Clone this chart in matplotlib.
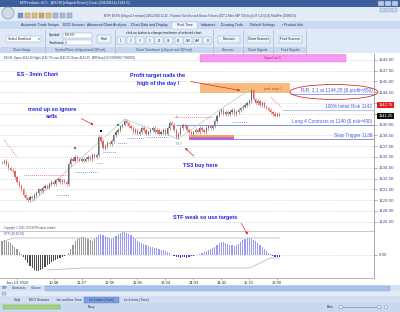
import matplotlib
matplotlib.use("Agg")
import matplotlib.pyplot as plt
from matplotlib.patches import Rectangle, Ellipse, Circle

plt.rcParams["font.family"] = ["Liberation Sans", "DejaVu Sans"]

# ---- values ----
closes = [
    1134.75, 1135.0, 1134.5, 1134.0, 1133.75, 1133.5, 1132.75, 1132.0, 1131.5, 1131.0,
    1130.25, 1129.75, 1129.5, 1130.0, 1129.75, 1130.25, 1130.5, 1131.0, 1130.75, 1131.25,
    1131.5, 1131.25, 1131.75, 1132.0, 1131.75, 1132.25, 1132.5, 1132.0, 1132.25, 1132.0,
    1131.75, 1134.5, 1135.25, 1135.0, 1135.5, 1135.25, 1135.0, 1135.25, 1135.0, 1135.25,
    1135.5, 1135.25, 1135.75, 1135.5, 1135.75, 1138.25, 1137.75, 1136.75, 1137.0, 1137.5,
    1137.25, 1137.75, 1138.5, 1139.0, 1139.25, 1139.75, 1140.0, 1140.5, 1140.25, 1139.75,
    1139.5, 1139.0, 1139.25, 1138.75, 1139.0, 1139.5, 1139.25, 1138.75, 1139.0, 1139.25,
    1139.5, 1139.0, 1139.25, 1138.75, 1139.0, 1139.25, 1138.75, 1139.5, 1140.25, 1140.0,
    1139.25, 1138.25, 1138.75, 1139.5, 1140.0, 1139.75, 1139.25, 1139.0, 1138.75, 1139.0,
    1139.25, 1139.0, 1139.5, 1139.25, 1139.0, 1139.5, 1139.75, 1139.5, 1139.75, 1140.5,
    1141.25, 1141.75, 1142.0, 1141.5, 1141.75, 1141.5, 1141.75, 1142.0, 1141.5, 1141.75,
    1142.0, 1142.25, 1142.5, 1142.75, 1143.0, 1143.25, 1144.75, 1143.5, 1143.0, 1143.25,
    1142.75, 1143.0, 1142.5, 1142.25, 1142.0, 1141.75, 1141.5, 1141.25, 1141.5, 1141.25,
]

stf = [
    14, 15, 14, 13, 12, 10, 8, 6, 3, 1,
    -2, -5, -8, -11, -13, -15, -16, -16, -15, -14,
    -12, -10, -9, -7, -6, -5, -4, -3, -2, -1,
    0.5, 2, 6, 10, 14, 16, 17, 18, 18, 17,
    16, 15, 14, 16, 18, 20, 21, 20, 19, 18,
    17, 16, 17, 19, 21, 22, 23, 23, 22, 21,
    20, 18, 16, 14, 13, 12, 11, 10, 9, 8,
    8, 7, 7, 6, 5, 5, 4, 3, 2, 0.5,
    -1, -2, -2, -3, -2, -2, -3, -2, -1, -1,
    0.5, 0.5, 1, 2, 3, 4, 5, 6, 7, 8,
    10, 12, 13, 13, 12, 11, 10, 10, 9, 10,
    11, 13, 15, 16, 17, 17, 16, 15, 14, 12,
    10, 8, 6, 4, 2, 1, -1, -2, -2, -2,
]
stf_upper_x = [0, 5, 129]
stf_upper = [13, 17, 17]
stf_lower_x = [21, 38, 115, 122, 125, 129]
stf_lower = [-15, -13, -13, -6, -3, -3]

price_ticks = [1126.5, 1128.0, 1129.5, 1131.0, 1132.5, 1134.0, 1135.5, 1137.0,
               1138.5, 1140.0, 1141.5, 1143.0, 1144.5, 1146.0, 1147.5, 1149.0]
# the two ticks hidden behind the price flags carry no label
price_labels = ["1126.50", "1128.00", "1129.50", "1131.00", "1132.50", "1134.00",
                "1135.50", "1137.00", "1138.50", "1140.00", "", "",
                "1144.50", "1146.00", "1147.50", "1149.00"]
time_ticks = [7, 24, 37, 50, 63, 76, 89, 102, 115, 128]
time_labels = ["Jan 13 2010", "10:48", "11:27", "12:06", "12:45", "13:24",
               "14:03", "14:42", "15:21", "16:00"]

target = 1144.25
initial_risk = 1142.0
entry = 1140.0
stop = 1138.0
last_price = 1141.25
flag_price = 1142.75

# stop dots: (first bar, last bar, price start, price end, side)
stop_dots = [
    (1, 7, 1137.9, 1135.5, "sell"),
    (10, 30, 1133.0, 1133.0, "sell"),
    (25, 31, 1130.2, 1130.2, "buy"),
    (34, 44, 1133.4, 1133.4, "buy"),
    (44, 47, 1134.7, 1134.7, "buy"),
    (47, 53, 1136.2, 1136.2, "buy"),
    (54, 58, 1137.45, 1137.45, "buy"),
    (58, 66, 1138.1, 1138.1, "buy"),
    (67, 77, 1138.3, 1138.3, "buy"),
    (80, 98, 1141.05, 1141.05, "sell"),
    (107, 114, 1140.35, 1140.35, "buy"),
    (125, 130, 1143.8, 1142.4, "sell"),
]
trend_lines = [
    (14, 1129.25, 57, 1140.75),
    (57, 1140.75, 82, 1138.0),
    (82, 1138.0, 101, 1142.0),
    (101, 1142.0, 116, 1145.0),
]
swing_bars = [34, 46, 54]
swing_prices = [1136.75, 1139.1, 1139.9]
swing_colors = ["#2e8b57", "#111111", "#2e8b57"]

W, H = 400, 312
fig = plt.figure(figsize=(4, 3.12), dpi=100, facecolor="#dae6f7")


def frac(x0, y0, x1, y1):
    return [x0 / W, 1 - y1 / H, (x1 - x0) / W, (y1 - y0) / H]


def box(ax, x, y, w, h, fc, ec="none", lw=0.4, z=1):
    ax.add_patch(Rectangle((x, y), w, h, facecolor=fc, edgecolor=ec, linewidth=lw, zorder=z))


bg = fig.add_axes([0, 0, 1, 1], zorder=-5)
bg.set_xlim(0, W)
bg.set_ylim(H, 0)
bg.axis("off")
fg = fig.add_axes([0, 0, 1, 1], zorder=10)
fg.set_xlim(0, W)
fg.set_ylim(H, 0)
fg.set_facecolor("none")
fg.axis("off")

# ---- window chrome ----
box(bg, 0, 0, 400, 6.5, "#3d5f9e")
bg.text(20, 3.3, "MTPredictor v6.5 - [ES H0 [eSignal Emini] 3 min (20100113) 1142.5]",
        fontsize=2.6, color="white", va="center")
for bx in (378, 385, 392):
    box(bg, bx, 1, 6, 4.5, "#b9c9e6", "#6f86b8", 0.3)
box(bg, 0, 6.5, 400, 14.5, "#e4ecf8")
for bx in (380, 386, 392):
    box(bg, bx, 7.5, 5, 4, "#c8d6ee", "#8096c0", 0.3)
bg.add_patch(Circle((8, 13), 6, facecolor="#d3dbe8", edgecolor="#8a9ab8", linewidth=0.5, zorder=2))
for k, col in enumerate(["#6f8fc8", "#e8c458", "#e8c458", "#d9a640", "#e8c458",
                         "#a9b9d8", "#a9b9d8", "#a9b9d8"]):
    box(bg, 18 + k * 7, 13, 5, 5, col, "#7a8bb0", 0.3, 2)
bg.text(104, 15.5, "MTPr ES H0 [eSignal 3 minute] 14/01/2010 11:42 - Position Size Est and "
        "Bonus Futures (OZ*JI-Mini S&P 500 (us)) LH 5.23 (1/2) Risk/Ret (1900/1%)",
        fontsize=2.1, color="#35405e", va="center")

# tabs
box(bg, 0, 21, 400, 8, "#c9daf2")
box(bg, 172, 21.5, 25, 7.5, "#f4f8fe", "#9db2d6", 0.3, 2)
for tx, lab in [(40, "Automatic Trade Setups"), (74, "EDO Scanner"), (107, "Advanced Chart Analysis"),
                (149, "Chart Data and Display"), (184.5, "Real Time"), (208, "Indicators"),
                (232, "Drawing Tools"), (262, "Default Settings"), (293, "\u2022 Product Info")]:
    bg.text(tx, 25.3, lab, fontsize=2.5, color="#1f2f55", ha="center", va="center", zorder=3)

# ribbon
box(bg, 0, 29, 400, 24, "#dfe9f8")
box(bg, 0, 47, 306, 5.5, "#c6d7ef")
for sx in (45, 115, 213, 243, 273, 306):
    bg.plot([sx, sx], [30, 52.5], color="#a4b8da", lw=0.5)
for gx, lab in [(22, "Chart Setup"), (80, "Symbol/Time (eSignal and IQFeed)"),
                (164, "Chart Timeframe (eSignal and IQFeed)"), (228, "Forecast"),
                (258, "Chart Signals"), (290, "Feed Signals")]:
    bg.text(gx, 49.8, lab, fontsize=2.3, color="#3a4f7a", ha="center", va="center")
box(bg, 6, 36, 35, 6, "white", "#8aa0c8", 0.3, 2)
bg.text(8, 39, "Select Datafeed", fontsize=2.3, color="#222", va="center", zorder=3)
bg.text(38, 39, "\u25be", fontsize=2.5, color="#222", va="center", zorder=3)
bg.text(49, 35, "Symbol:", fontsize=2.4, color="#222", va="center")
bg.text(49, 42.5, "Timeframe:", fontsize=2.4, color="#222", va="center")
box(bg, 63, 32.5, 29, 5, "white", "#8aa0c8", 0.3, 2)
box(bg, 63, 40, 29, 5, "white", "#8aa0c8", 0.3, 2)
bg.text(65, 35, "ES H0", fontsize=2.3, color="#222", va="center", zorder=3)
bg.text(65, 42.5, "3", fontsize=2.3, color="#222", va="center", zorder=3)
box(bg, 97, 35, 14, 8, "#eef4fc", "#8aa0c8", 0.3, 2)
bg.text(104, 39, "Find", fontsize=2.4, color="#222", ha="center", va="center", zorder=3)
bg.text(164, 33, "click on button to change timeframe of selected chart", fontsize=2.3,
        color="#222", ha="center", va="center")
for k, lab in enumerate(["1", "2", "3", "5", "15", "30", "60", "240", "480", "D"]):
    cx = 121 + k * 9.6
    box(bg, cx - 4, 37, 8, 7, "#eef4fc", "#8aa0c8", 0.3, 2)
    bg.text(cx, 40.5, lab, fontsize=2.2, color="#222", ha="center", va="center", zorder=3)
for x0, x1, lab in [(218, 240, "Forecast"), (247, 270, "Chart Scanner"), (279, 302, "Feed Scanner")]:
    box(bg, x0, 36, x1 - x0, 7, "#eef4fc", "#8aa0c8", 0.3, 2)
    bg.text((x0 + x1) / 2, 39.5, lab, fontsize=2.3, color="#222", ha="center", va="center", zorder=3)

# chart region backgrounds
box(bg, 0, 53, 400, 232, "white")

# ---- price panel ----
ax = fig.add_axes(frac(0, 54, 374, 231))
x0, x1 = -2 / 2.15, 372 / 2.15
ax.set_xlim(x0, x1)
ax.set_ylim(1144.25 - (231 - 94) / 7.2, 1144.25 + 40 / 7.2)
ax.set_facecolor("white")
for s in ("left", "top", "bottom"):
    ax.spines[s].set_visible(False)
ax.spines["right"].set_color("#9a9a9a")
ax.spines["right"].set_linewidth(0.6)
ax.yaxis.tick_right()
ax.set_yticks(price_ticks)
ax.set_yticklabels(price_labels)
ax.tick_params(axis="y", labelsize=3.2, labelcolor="#3a4a8a", length=2, width=0.4,
               color="#777", pad=1.5)
ax.set_xticks([])
for p in price_ticks:
    ax.axhline(p, color="#b5b5b5", lw=0.5, ls=(0, (1, 2)), zorder=0)

# zones and bands
ax.add_patch(Rectangle((92, 1148.7), 68, 1.3, facecolor="#f59af0", edgecolor="#e070e0", lw=0.3, zorder=1))
ax.text(126, 1149.3, "Signal exit C", fontsize=2.2, color="#d02060", ha="center", va="center")
ax.add_patch(Rectangle((92, 1144.4), 42, 1.4, facecolor="#f7b06a", alpha=0.85, lw=0, zorder=1))
ax.text(126, 1144.95, "profit target 1", fontsize=2.2, color="#d04040", ha="center", va="center", zorder=4)
ax.add_patch(Rectangle((87, 1138.28), 21, 0.3, facecolor="#f5a84e", lw=0, zorder=1))
ax.add_patch(Rectangle((87, 1137.8), 21, 0.45, facecolor="#c860e0", lw=0, zorder=1))

# trade levels
ax.hlines(target, 134, x1, color="#7f8ff0", lw=0.6, zorder=2)
ax.hlines(initial_risk, 130, x1, color="#b8c4f4", lw=0.8, zorder=2)
ax.hlines(entry, 81, x1, color="#7080e8", lw=0.6, zorder=2)
ax.hlines(stop, 87, x1, color="#8a78d8", lw=0.6, zorder=2)
lab_kw = dict(fontsize=3.4, color="#4a5fd8", ha="right", va="bottom", zorder=4)
ax.text(x1 - 0.8, target + 0.12, "R/R: 2:1 at 1144.25 ($ profit=850)", **lab_kw)
ax.text(x1 - 0.8, initial_risk + 0.12, "100% Initial Risk 1142", **lab_kw)
ax.text(x1 - 0.8, entry + 0.12, "Long 4 Contracts at 1140 ($ risk=400)", **lab_kw)
ax.text(x1 - 0.8, stop + 0.12, "Stop Trigger 1138", **lab_kw)

# trend lines and stop dots
for a, pa, b, pb in trend_lines:
    ax.plot([a, b], [pa, pb], color="#c4c4c4", lw=0.5, zorder=2)
for a, b, pa, pb, side in stop_dots:
    ax.plot([a, b], [pa, pb], color="#e47070" if side == "sell" else "#7a7ae8",
            lw=0.7, ls=(0, (0.8, 1.2)), zorder=2)

# candles
opens = [closes[0]] + closes[:-1]
for i, (o, c) in enumerate(zip(opens, closes)):
    col = "#6a6a6a" if c >= o else "#e46464"
    ax.vlines(i, min(o, c) - 0.25, max(o, c) + 0.25, color=col, lw=0.4, zorder=3)
    ax.bar(i, c - o if c != o else 0.1, bottom=o, width=0.6, color=col, lw=0, zorder=3)
ax.scatter(swing_bars, swing_prices, marker="s", s=1.5, c=swing_colors, zorder=4, lw=0)
ax.text(81.5, 1140.9, "b", fontsize=2.6, color="#7a8ad8", ha="center", zorder=4)
ax.text(82, 1137.2, "TS3", fontsize=3, color="#7ab0e0", ha="center", zorder=4)
ax.text(1, 1149.3, "ES H0: Open=1141.50 High=1141.75 Low=1141.25 Close=1141.25   "
        "ATRStop (10,3.000000,7.000000)", fontsize=2.1, color="#243a7a", va="center")
ax.text(1, 1125.6, "Copyright \u00a9 2001-2009 MTPredictor Limited", fontsize=1.9,
        color="#555", va="center")

# price flags on the right scale
ax.text(1.012, flag_price, "1142.75", transform=ax.get_yaxis_transform(), fontsize=2.9,
        color="white", va="center", clip_on=False, zorder=6,
        bbox=dict(boxstyle="square,pad=0.25", fc="#e02020", ec="none"))
ax.text(1.012, last_price, "1141.25", transform=ax.get_yaxis_transform(), fontsize=2.9,
        color="white", va="center", clip_on=False, zorder=6,
        bbox=dict(boxstyle="square,pad=0.25", fc="#111111", ec="none"))

# ---- STF oscillator panel ----
ox = fig.add_axes(frac(0, 231, 374, 278))
ox.set_xlim(x0, x1)
ox.set_ylim(-23, 24)
ox.set_facecolor("white")
for s in ("left", "top"):
    ox.spines[s].set_visible(False)
ox.spines["right"].set_color("#9a9a9a")
ox.spines["right"].set_linewidth(0.6)
ox.spines["bottom"].set_color("#9a9a9a")
ox.spines["bottom"].set_linewidth(0.5)
ox.axhline(24, color="#c8c8c8", lw=0.8)
ox.yaxis.tick_right()
ox.set_yticks([0])
ox.set_yticklabels(["0.00"])
ox.tick_params(axis="y", labelsize=3.2, labelcolor="#3a4a8a", length=2, width=0.4,
               color="#777", pad=1.5)
ox.set_xticks(time_ticks)
ox.set_xticklabels(time_labels)
ox.tick_params(axis="x", labelsize=3, labelcolor="#333", length=1.5, width=0.4,
               color="#777", pad=1)
ox.axhline(0, color="#b5b5b5", lw=0.5, ls=(0, (1, 2)), zorder=0)
bar_cols = []
for i, v in enumerate(stf):
    if i < 44:
        bar_cols.append("#9a9a9a" if v > 0 else "#4a4a4a")
    else:
        bar_cols.append("#9a9af2" if v > 0 else "#3c3cd8")
ox.bar(range(len(stf)), stf, width=0.55, color=bar_cols, lw=0, zorder=2)
ox.plot(stf_upper_x, stf_upper, color="#bdbdbd", lw=0.6, zorder=1)
ox.plot(stf_lower_x, stf_lower, color="#bdbdbd", lw=0.6, zorder=1)
ox.text(1, 21.5, "STF (30,30,30)", fontsize=2.2, color="#3a4fb0", va="center")

# ---- overlay annotations ----
ann = dict(fontsize=4, color="#2424e0", fontweight="bold", va="center")
fg.text(17, 75, "ES - 3min Chart", **ann)
fg.text(158, 75, "Profit target nails the", ha="center", **ann)
fg.text(158, 83, "high of the day !", ha="center", **ann)
fg.text(52, 109, "trend up so ignore", ha="center", **ann)
fg.text(52, 116.5, "sells", ha="center", **ann)
fg.text(183, 165, "TS3 buy here", **ann)
fg.text(173, 217, "STF weak so use targets", **ann)
arrow = dict(arrowstyle="-|>", color="#e02020", lw=0.5, mutation_scale=3, ls=(0, (2, 0.8)))
fg.annotate("", xy=(243, 91), xytext=(188, 81), arrowprops=arrow)
fg.annotate("", xy=(96, 126), xytext=(79, 117.5), arrowprops=arrow)
fg.annotate("", xy=(183, 146), xytext=(196, 158), arrowprops=arrow)
fg.annotate("", xy=(249, 237), xytext=(240, 221), arrowprops=arrow)
fg.add_patch(Ellipse((334, 92), 88, 15, facecolor="none", edgecolor="#e03030", lw=0.6))

# ---- bottom chrome ----
box(bg, 0, 285, 400, 6, "#d7e3f4")
box(bg, 45, 285.5, 345, 5, "#a9c3ee", "#7f9fd8", 0.3, 2)
for k, lab in enumerate(["STF", "Stochastic", "Volume"]):
    bg.text([2, 12, 31][k], 288, lab, fontsize=2.3, color="#2a3a8a", va="center", zorder=3)
box(bg, 0, 291, 400, 5, "#e3ebf7")
box(bg, 2, 292, 4, 3, "#c0cce0", "#8090b0", 0.3, 2)
box(bg, 0, 296, 400, 7, "#d2dff2")
box(bg, 84, 296.5, 35, 6.5, "#7f9fe0", "#5a78c0", 0.3, 2)
for tx, lab in [(17, "Daily"), (39, "EDO Scanner"), (69, "Jan and line Time"),
                (101.5, "es-3-mins (Tues)"), (136, "es-3-mins (Tues)")]:
    bg.text(tx, 299.8, lab, fontsize=2.3, color="#1f2f55", ha="center", va="center", zorder=3)
box(bg, 0, 303, 400, 9, "#c9d8ee")
box(bg, 3, 304.5, 57, 4.5, "#9fd67a", "#6aa048", 0.3, 2)
bg.text(88, 307, "Busy", fontsize=2.4, color="#333", va="center")
bg.text(327, 307, "Bars", fontsize=2.4, color="#333", va="center")
bg.plot([340, 380], [307, 307], color="#8090b0", lw=0.5)
for cx in (341, 379, 386):
    bg.add_patch(Circle((cx, 307), 1.8, facecolor="#e8eef8", edgecolor="#7080a8", lw=0.3, zorder=3))

fig.savefig("out.png", dpi=100, facecolor=fig.get_facecolor())
